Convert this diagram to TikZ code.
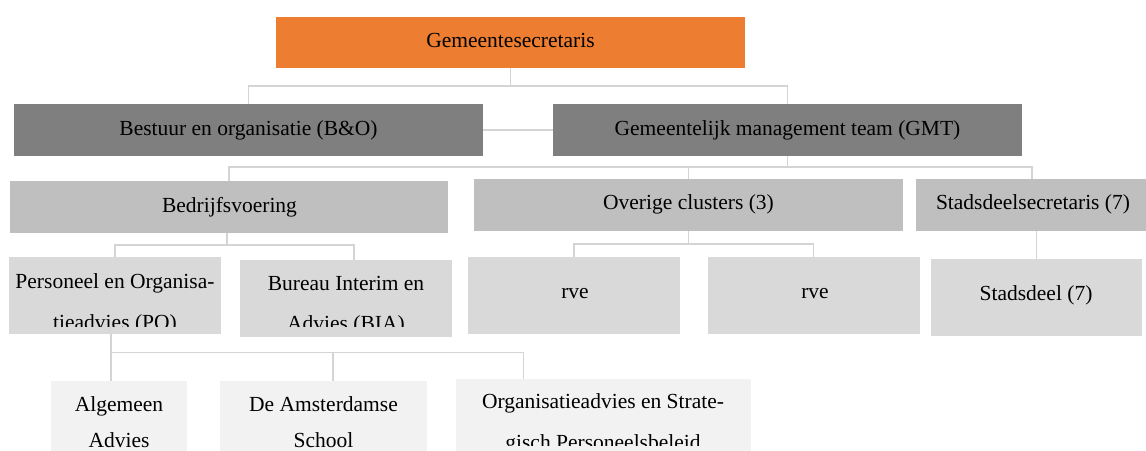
\documentclass[tikz,border=0pt]{standalone}
\usepackage{fontspec}
\setmainfont{Liberation Serif}
\definecolor{orangeA}{HTML}{ED7D31}
\definecolor{greyA}{HTML}{7F7F7F}
\definecolor{greyB}{HTML}{BFBFBF}
\definecolor{greyC}{HTML}{D9D9D9}
\definecolor{greyD}{HTML}{F2F2F2}
\definecolor{lineC}{HTML}{D4D4D4}
\tikzset{
  box/.style={draw=none, inner sep=0pt, outer sep=0pt, anchor=north west, rectangle},
  txt/.style={inner sep=0pt, outer sep=0pt, anchor=base, text=black, font=\fontsize{21.5}{35}\selectfont},
  conn/.style={draw=lineC, line width=1.3pt}
}
\begin{document}
\begin{tikzpicture}[x=1pt, y=-1pt]
\useasboundingbox (0,0) rectangle (1146,450);
\clip (0,0) rectangle (1146,450);
\fill[white] (0,0) rectangle (1146,450);

% boxes
\node[box, fill=orangeA, minimum width=469pt, minimum height=51pt] (gs) at (276,17) {};
\node[box, fill=greyA, minimum width=469pt, minimum height=52pt] (bo) at (14,104) {};
\node[box, fill=greyA, minimum width=469pt, minimum height=52pt] (gmt) at (553,104) {};
\node[box, fill=greyB, minimum width=438pt, minimum height=52pt] (bv) at (10,181) {};
\node[box, fill=greyB, minimum width=429pt, minimum height=52pt] (oc) at (474,179) {};
\node[box, fill=greyB, minimum width=232pt, minimum height=52pt] (ss) at (916,179) {};
\node[box, fill=greyC, minimum width=212pt, minimum height=76.5pt] (po) at (9,257) {};
\node[box, fill=greyC, minimum width=212pt, minimum height=76.7pt] (bia) at (240,260) {};
\node[box, fill=greyC, minimum width=212pt, minimum height=77pt] (rvea) at (468,257) {};
\node[box, fill=greyC, minimum width=211.5pt, minimum height=77pt] (rveb) at (708,257) {};
\node[box, fill=greyC, minimum width=211pt, minimum height=77pt] (sd) at (931,259) {};
\node[box, fill=greyD, minimum width=136pt, minimum height=90pt] (aa) at (51,381) {};
\node[box, fill=greyD, minimum width=207pt, minimum height=90pt] (das) at (220,381) {};
\node[box, fill=greyD, minimum width=295pt, minimum height=92pt] (org) at (456,379) {};

% connectors
\draw[conn] (gs.south) -- ++(0,18) -| (bo.north);
\draw[conn] (gs.south) -- ++(0,18) -| (gmt.north);
\draw[conn] (bo.east) -- (gmt.west);
\draw[conn] (gmt.south) -- ++(0,11) -| (bv.north);
\draw[conn] (gmt.south) -- ++(0,11) -| (oc.north);
\draw[conn] (gmt.south) -- ++(0,11) -| (ss.north);
\draw[conn] ([xshift=-2pt]bv.south) -- ++(0,12) -| (po.north);
\draw[conn] ([xshift=-2pt]bv.south) -- ++(0,12) -| ([xshift=8pt]bia.north);
\draw[conn] (oc.south) -- ++(0,13) -| (rvea.north);
\draw[conn] (oc.south) -- ++(0,13) -| (rveb.north);
\draw[conn] (sd.north) -- (sd.north |- ss.south);
\draw[conn] ([xshift=-4pt]po.south) -- ([xshift=-8pt]aa.north);
\draw[conn] ([xshift=-4pt]po.south) -- ++(0,19.2) -| ([xshift=9.4pt]das.north);
\draw[conn] ([xshift=-4pt]po.south) -- ++(0,19.2) -| ([xshift=-80pt]org.north);

% texts
\node[txt] (gs-t) at (510.5,47.7) {Gemeentesecretaris};
\node[txt] (bo-t) at (248.5,135) {Bestuur en organisatie (B\&O)};
\node[txt] (gmt-t) at (787.5,135) {Gemeentelijk management team (GMT)};
\node[txt] (bv-t) at (229.5,212.3) {Bedrijfsvoering};
\node[txt] (oc-t) at (688.5,209.3) {Overige clusters (3)};
\node[txt] (ss-t) at (1033,209.3) {Stadsdeelsecretaris (7)};
\node[txt] (rvea-t) at (575,298.4) {rve};
\node[txt] (rveb-t) at (815,298.4) {rve};
\node[txt] (sd-t) at (1036,300) {Stadsdeel (7)};

\begin{scope}
\clip (po.north west) rectangle (po.east |- 0,326.5);
\node[txt] (po-a) at (115,288.3) {Personeel en Organisa-};
\node[txt] (po-b) at (115,329.3) {tieadvies (PO)};
\end{scope}
\begin{scope}
\clip (bia.north west) rectangle (bia.east |- 0,326);
\node[txt] (bia-a) at (346,290.3) {Bureau Interim en};
\node[txt] (bia-b) at (346,330) {Advies (BIA)};
\end{scope}

\node[txt] (aa-a) at (119,411.5) {Algemeen};
\node[txt] (aa-b) at (119,447.3) {Advies};
\node[txt] (das-a) at (323.5,411.5) {De Amsterdamse};
\node[txt] (das-b) at (323.5,447.3) {School};
\begin{scope}
\clip (org.north west) rectangle (org.east |- 0,445);
\node[txt] (org-a) at (603,408.3) {Organisatieadvies en Strate-};
\node[txt] (org-b) at (603,449.5) {gisch Personeelsbeleid};
\end{scope}
\end{tikzpicture}
\end{document}
